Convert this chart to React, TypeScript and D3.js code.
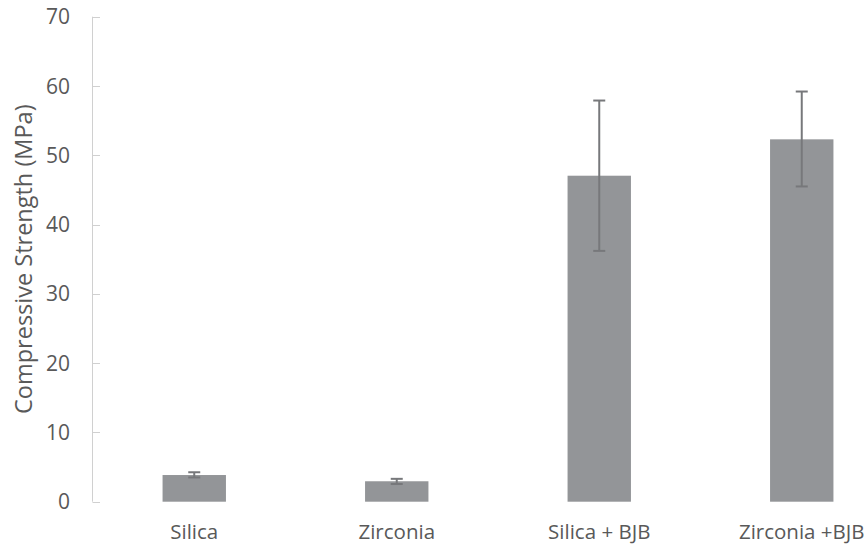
import React from "react";
import * as d3 from "d3";

const categories = ["Silica", "Zirconia", "Silica + BJB", "Zirconia +BJB"];
const strength = [3.85, 2.95, 47.05, 52.3];
const errLow = [3.5, 2.55, 36.2, 45.5];
const errHigh = [4.25, 3.3, 57.9, 59.2];
const yTicks = [0, 10, 20, 30, 40, 50, 60, 70];

const W = 866;
const H = 546;
const FONT = "'Open Sans', 'Liberation Sans', sans-serif";
const TEXT = "#595959";

export default function App() {
  const y = d3.scaleLinear().domain([0, 70]).range([501.7, 16.7]);
  const x = d3.scaleBand<string>().domain(categories).range([93, 903]).padding(0);
  const barW = x.bandwidth() * 0.313;
  const axisX = 92.5;

  return (
    <svg
      width={W}
      height={H}
      style={{ position: "absolute", left: 0, top: 0, background: "#fff" }}
      fontFamily={FONT}
    >
      {/* value axis */}
      <line x1={axisX} x2={axisX} y1={y(70)} y2={y(0)} stroke="#d0d0d0" strokeWidth={1} />
      {yTicks.map((t) => (
        <g key={t}>
          <line x1={axisX} x2={axisX + 7.5} y1={Math.round(y(t)) + 0.5} y2={Math.round(y(t)) + 0.5} stroke="#d0d0d0" />
          <text x={70} y={y(t)} dy="0.36em" textAnchor="end" fontSize={21} fill={TEXT}>
            {t}
          </text>
        </g>
      ))}
      <text
        transform={`translate(24, ${(y(0) + y(70)) / 2}) rotate(-90)`}
        textAnchor="middle"
        dy="0.36em"
        fontSize={23.5}
        fill={TEXT}
      >
        Compressive Strength (MPa)
      </text>

      {/* bars */}
      {categories.map((c, i) => {
        const cx = (x(c) as number) + x.bandwidth() / 2;
        return (
          <g key={c}>
            <rect x={cx - barW / 2} y={y(strength[i])} width={barW} height={y(0) - y(strength[i])} fill="#939598" />
            <line x1={cx} x2={cx} y1={y(errHigh[i])} y2={y(errLow[i])} stroke="#77787b" strokeWidth={2} />
            <line x1={cx - 6} x2={cx + 6} y1={y(errHigh[i])} y2={y(errHigh[i])} stroke="#77787b" strokeWidth={2} />
            <line x1={cx - 6} x2={cx + 6} y1={y(errLow[i])} y2={y(errLow[i])} stroke="#77787b" strokeWidth={2} />
            <text x={cx} y={539} textAnchor="middle" fontSize={20.5} fill={TEXT}>
              {c}
            </text>
          </g>
        );
      })}
    </svg>
  );
}
